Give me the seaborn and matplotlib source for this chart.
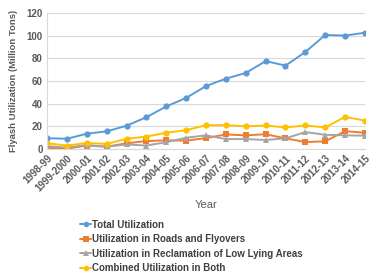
import seaborn as sns
import matplotlib.pyplot as plt
import pandas as pd

years = ["1998-99", "1999-2000", "2000-01", "2001-02", "2002-03", "2003-04",
         "2004-05", "2005-06", "2006-07", "2007-08", "2008-09", "2009-10",
         "2010-11", "2011-12", "2012-13", "2013-14", "2014-15"]
total = [9.5, 9, 13.5, 15.5, 20.5, 28, 37.5, 45, 55.5, 62, 67, 77.5, 73.5, 85.5, 100.5, 100, 102.5]
roads = [1, 0.3, 3, 2, 5, 7, 7.6, 7.3, 9.6, 12.8, 12, 13, 9.3, 6.1, 6.7, 15.7, 14.3]
reclamation = [2.5, 1.2, 3.5, 2, 4, 3, 6, 9.9, 12, 8.7, 8.7, 7.9, 9.3, 14.9, 12.5, 12, 11.7]
combined = [5, 3, 5.3, 4.4, 9, 10.9, 14.4, 16.5, 21, 21, 20, 20.7, 19, 20.7, 19, 28.3, 25]

series = ["Total Utilization", "Utilization in Roads and Flyovers",
          "Utilization in Reclamation of Low Lying Areas", "Combined Utilization in Both"]
colors = ["#5B9BD5", "#ED7D31", "#A5A5A5", "#FFC000"]
markers = ["o", "s", "^", "o"]

rows = []
for name, vals in zip(series, [total, roads, reclamation, combined]):
    for i, v in enumerate(vals):
        rows.append({"Year": i, "Series": name, "Value": v})
df = pd.DataFrame(rows)

sns.set_style("white")
plt.rcParams['font.family'] = ['Liberation Sans', 'DejaVu Sans']

fig = plt.figure(figsize=(3.77, 2.80), dpi=100)
ax = fig.add_axes([0.125, 0.468, 0.843, 0.486])

sns.lineplot(data=df, x="Year", y="Value", hue="Series", style="Series",
             hue_order=series, style_order=series, palette=colors,
             markers=markers, dashes=False, markersize=4.5, linewidth=1.4,
             markeredgewidth=0, ax=ax, legend=False)

ax.set_xlim(0, len(years) - 1)
ax.set_ylim(0, 120)
ax.set_yticks(range(0, 121, 20))
ax.set_xticks(range(len(years)))
ax.set_xticklabels(years, rotation=45, ha="right", rotation_mode="anchor")
ax.tick_params(axis="both", labelsize=7, colors="#595959", length=0, pad=3)
for lbl in ax.get_xticklabels() + ax.get_yticklabels():
    lbl.set_fontweight("bold")
ax.yaxis.grid(True, color="#D9D9D9", linewidth=0.8)
ax.set_axisbelow(True)
for s in ["top", "right"]:
    ax.spines[s].set_visible(False)
ax.spines["left"].set_color("#D9D9D9")
ax.spines["bottom"].set_color("#D9D9D9")

ax.set_xlabel("Year", fontsize=8, color="#595959", labelpad=5)
ax.set_ylabel("Flyash Utilization (Million Tons)", fontsize=6.8,
              fontweight="bold", color="#595959", labelpad=6)

handles = [plt.Line2D([], [], color=c, marker=m, markersize=4, linewidth=1.4,
                      markeredgewidth=0) for c, m in zip(colors, markers)]
leg = fig.legend(handles, series, loc="upper left", bbox_to_anchor=(0.2, 0.232),
                 frameon=False, fontsize=7, handlelength=1.1, handletextpad=0.1,
                 labelspacing=0.45, borderpad=0)
for t in leg.get_texts():
    t.set_fontweight("bold")
    t.set_color("#404040")

plt.savefig("out.png", dpi=100)
